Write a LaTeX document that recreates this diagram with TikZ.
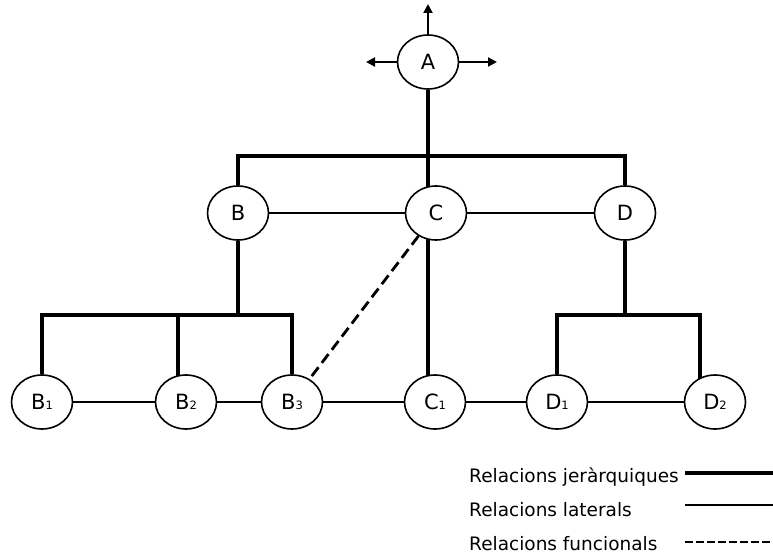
\documentclass[tikz,border=0pt]{standalone}
\usepackage{fontspec}
\setmainfont{DejaVu Sans}
\usetikzlibrary{shapes.geometric,arrows.meta,backgrounds}
% small index digit sitting on the baseline
\newcommand\unitidx[1]{{\fontsize{11.5}{11.5}\selectfont #1}}
\begin{document}
\begin{tikzpicture}[x=1pt,y=-1pt,
  unit/.style={ellipse,draw,line width=1.6pt,fill=white,minimum width=61pt,
    minimum height=54pt,inner sep=0pt,font=\fontsize{21}{21}\selectfont},
  hier/.style={line width=4pt},
  lat/.style={line width=1.5pt},
  func/.style={line width=2.8pt,dash pattern=on 11pt off 5.5pt},
  funckey/.style={line width=2pt,dash pattern=on 7.5pt off 3.5pt},
  outarrow/.style={line width=2pt,-{Triangle[length=9pt,width=9pt]}},
  legend/.style={anchor=base west,inner sep=0pt,font=\fontsize{18.5}{18.5}\selectfont}]
\useasboundingbox (0,0) rectangle (773,556);

% units
\node[unit] (A)  at (428,62)  {A};
\node[unit] (B)  at (238,213) {B};
\node[unit] (C)  at (436,213) {C};
\node[unit] (D)  at (625,213) {D};
\node[unit] (B1) at (42,402)  {B\unitidx{1}};
\node[unit] (B2) at (186,402) {B\unitidx{2}};
\node[unit] (B3) at (292,402) {B\unitidx{3}};
\node[unit] (C1) at (435,402) {C\unitidx{1}};
\node[unit] (D1) at (557,402) {D\unitidx{1}};
\node[unit] (D2) at (715,402) {D\unitidx{2}};

% bus levels and attachment points
\coordinate (busTop) at (0,156);
\coordinate (busLow) at (0,315);
\coordinate (B2v) at ([xshift=-8pt]B2.center);
\coordinate (D2v) at ([xshift=-15pt]D2.center);

% outward arrows of the top unit
\coordinate (aUp)    at (428,4);
\coordinate (aLeft)  at (366,62);
\coordinate (aRight) at (497,62);
\draw[outarrow] (A) -- (aUp);
\draw[outarrow] (A) -- (aLeft);
\draw[outarrow] (A) -- (aRight);

\begin{scope}[on background layer]
  % hierarchical relations
  \draw[hier] (A) -- (A |- C1);
  \draw[hier] (B) |- (D |- busTop) -- (D);
  \draw[hier] (B) -- (B |- busLow);
  \draw[hier] (B1) |- (B3 |- busLow) -- (B3);
  \draw[hier] (B2v |- busLow) -- (B2v);
  \draw[hier] (D) -- (D |- busLow);
  \draw[hier] (D1) |- (D2v |- busLow) -- (D2v);
  % lateral relations
  \draw[lat] (B) -- (C);
  \draw[lat] (C) -- (D);
  \draw[lat] (B1) -- (B2);
  \draw[lat] (B2) -- (B3);
  \draw[lat] (B3) -- (C1);
  \draw[lat] (C1) -- (D1);
  \draw[lat] (D1) -- (D2);
  % functional relation
  \draw[func] (C) -- (B3);
\end{scope}

% legend
\node[legend] (k1) at (469,482) {Relacions jeràrquiques};
\node[legend] (k2) at (469,516) {Relacions laterals};
\node[legend] (k3) at (469,550) {Relacions funcionals};
\coordinate (k1a) at (685,473); \coordinate (k1b) at (773,473);
\coordinate (k2a) at (685,505); \coordinate (k2b) at (773,505);
\coordinate (k3a) at (685,542); \coordinate (k3b) at (773,542);
\draw[hier] (k1a) -- (k1b);
\draw[lat] (k2a) -- (k2b);
\draw[funckey] (k3a) -- (k3b);
\end{tikzpicture}
\end{document}
